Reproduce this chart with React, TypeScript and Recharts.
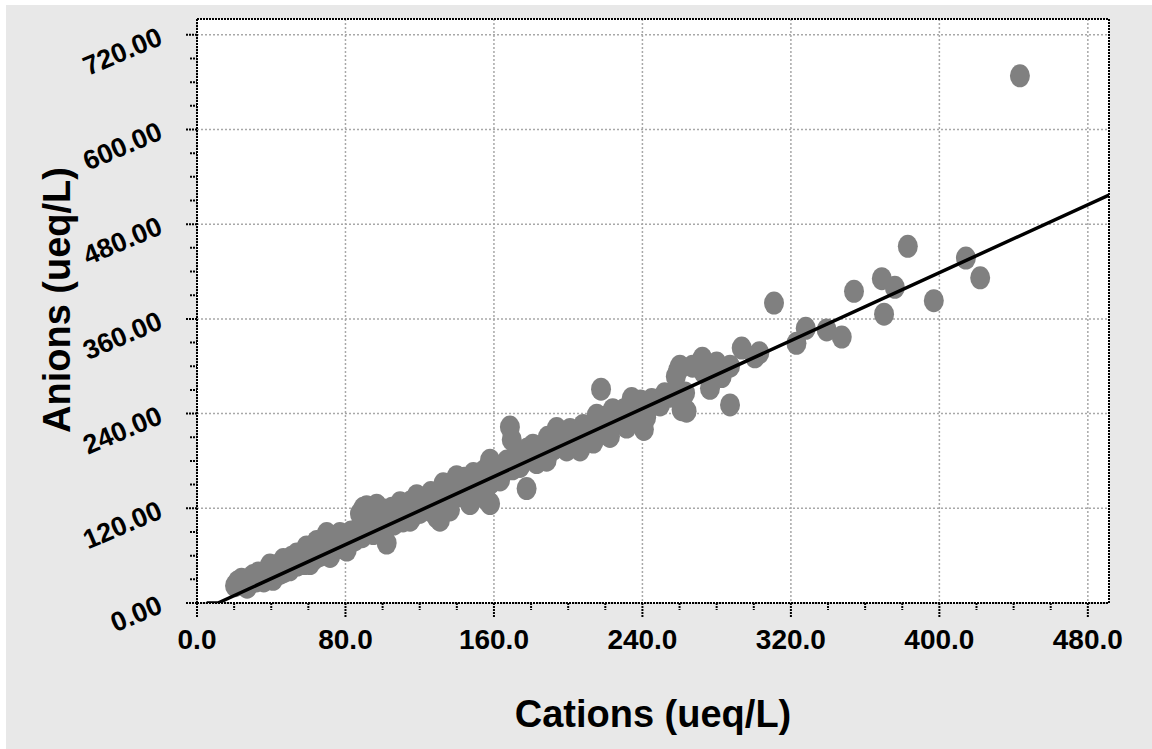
import { CartesianGrid, ReferenceLine, Scatter, ScatterChart, XAxis, YAxis } from "recharts";

// sample totals, ueq/L
const cations = [
  20.5, 22, 24, 25, 27, 28, 30.3, 32, 33, 35, 36, 38, 39.3, 40, 41, 43, 44, 45, 46.5, 47,
  48, 50, 51, 52, 53.7, 54, 55, 56, 57, 58, 59, 60.9, 61, 62, 63, 64.5, 65, 66, 67, 68,
  69.9, 70, 71.7, 72, 73, 74, 75, 76, 77, 78.8, 79, 80.7, 81, 82, 83, 84, 85, 86, 87.8, 88,
  89, 89.6, 90, 91.4, 92, 93, 94, 95, 96.8, 97, 98, 99, 100, 101, 102.2, 103, 104, 105, 106, 107,
  108, 109.4, 110, 111, 112, 113, 114.8, 115, 116, 117, 118.4, 119, 120, 121, 122, 123.8, 124, 125, 126, 127,
  128, 129.1, 130.9, 131, 132, 132.7, 133, 134.5, 135, 136.3, 137, 138, 139.9, 140, 141.7, 142, 143, 144, 145, 146,
  147.1, 148.9, 149, 150, 151, 152, 153, 154, 155, 156.1, 157.9, 157.9, 158, 160, 161, 163.3, 164, 165, 167, 168.6,
  169.6, 170, 172, 173, 174, 175, 176, 177.6, 178, 179.4, 181, 182, 183, 184.8, 186, 187, 188.4, 189, 190, 192,
  193.8, 195, 196, 198, 199.2, 201, 202, 204, 205, 206.4, 208, 209, 211, 212, 213.6, 215.4, 216, 217.7, 219, 220,
  222.5, 223, 224, 226, 227, 229, 230, 231.5, 233, 234.2, 236, 237, 239, 240.8, 242, 243, 245, 246.8, 249.5, 252,
  255, 258, 259.3, 260.2, 261.1, 263, 263.8, 267, 272.3, 272.8, 276.4, 280, 282.7, 287.2, 287.2, 293.5, 300.6, 303, 310.9, 323,
  328, 339.3, 347.4, 354, 370.2, 369, 376, 383, 397, 414.3, 422, 443.4,
];
const anions = [
  22, 27, 30, 24, 20, 30, 35, 28, 38, 33, 28, 40, 48, 36, 30, 42, 48, 38, 55, 40,
  45, 42, 58, 50, 62, 48, 52, 60, 55, 50, 71, 50, 66, 62, 56, 78, 70, 60, 62, 70,
  88, 72, 59, 75, 68, 80, 84, 70, 88, 86, 80, 67, 74, 78, 90, 85, 80, 92, 113, 96,
  84, 120, 90, 122, 110, 98, 92, 88, 124, 112, 100, 104, 95, 118, 76, 98, 108, 120, 100, 106,
  112, 127, 122, 104, 110, 118, 105, 128, 120, 112, 136, 124, 115, 132, 125, 134, 120, 118, 140, 130,
  124, 109, 105, 142, 138, 151, 128, 147, 150, 118, 130, 135, 160, 146, 156, 136, 140, 158, 150, 140,
  126, 164, 150, 145, 162, 155, 148, 140, 168, 131, 181, 126, 152, 160, 172, 156, 166, 170, 180, 223,
  207, 170, 180, 190, 173, 178, 190, 145, 195, 194, 200, 185, 178, 198, 190, 200, 181, 210, 200, 195,
  221, 212, 205, 205, 194, 220, 210, 200, 210, 194, 225, 215, 205, 222, 204, 238, 215, 271, 235, 225,
  211, 230, 245, 240, 235, 228, 245, 223, 238, 259, 240, 250, 256, 220, 235, 245, 258, 253, 251, 265,
  262, 287, 295, 300, 245, 266, 243, 300, 310, 293, 272, 304, 287, 251, 300, 323, 312, 317, 380, 329,
  348, 346, 337, 395, 366, 411, 400, 452, 383, 437, 412, 668,
];

// least-squares fit, clipped at zero
const fitCations = [5.2, 11.3, 491.4];
const fitAnions = [0, 0, 517];

const xTicks = [0, 20, 40, 60, 80, 100, 120, 140, 160, 180, 200, 220, 240, 260, 280, 300, 320, 340, 360, 380, 400, 420, 440, 460, 480];
const yTicks = [0, 30, 60, 90, 120, 150, 180, 210, 240, 270, 300, 330, 360, 390, 420, 450, 480, 510, 540, 570, 600, 630, 660, 690, 720];
const xLabelTicks = [0, 80, 160, 240, 320, 400, 480];
const yLabelTicks = [0, 120, 240, 360, 480, 600, 720];

const X_MAX = 491.4;
const Y_MAX = 740;

const points = cations.map((c, i) => ({ cation: c, anion: anions[i] }));
const fitLine = fitCations.map((c, i) => ({ cation: c, anion: fitAnions[i] }));

const FONT = "'Liberation Sans', Arial, sans-serif";
const dotted = { stroke: "#000", strokeWidth: 2, strokeDasharray: "2 1" };

const Dot = (props: any) => (
  <ellipse cx={props.cx} cy={props.cy} rx={10} ry={11.5} fill="#808080" />
);

const XTick = ({ x, y, payload }: any) => {
  const major = xLabelTicks.includes(payload.value);
  return (
    <g>
      <line x1={x} x2={x} y1={y} y2={y + (major ? 14 : 7)} {...dotted} />
      {major && (
        <text x={x} y={y + 46} textAnchor="middle" fontFamily={FONT} fontWeight="bold" fontSize={28} fill="#000">
          {payload.value.toFixed(1)}
        </text>
      )}
    </g>
  );
};

const YTick = ({ x, y, payload }: any) => {
  const major = yLabelTicks.includes(payload.value);
  const tx = x - 33;
  const ty = y + 9;
  return (
    <g>
      <line x1={x - (major ? 11 : 7)} x2={x} y1={y} y2={y} {...dotted} />
      {major && (
        <text
          x={tx}
          y={ty}
          textAnchor="end"
          transform={`rotate(-23, ${tx}, ${ty})`}
          fontFamily={FONT}
          fontWeight="bold"
          fontSize={27}
          fill="#000"
        >
          {payload.value.toFixed(2)}
        </text>
      )}
    </g>
  );
};

export default function App() {
  return (
    <div
      style={{
        position: "absolute",
        left: 6,
        top: 5,
        width: 1146,
        height: 744,
        background: "#e8e8e8",
        fontFamily: FONT,
      }}
    >
      <ScatterChart width={1146} height={744} margin={{ top: 14, right: 43, bottom: 86, left: 91 }}>
        <CartesianGrid
          fill="#fff"
          stroke="#a8a8a8"
          strokeDasharray="2 2"
          strokeWidth={1.5}
          horizontalValues={yLabelTicks}
          verticalValues={xLabelTicks}
        />
        <XAxis
          type="number"
          dataKey="cation"
          domain={[0, X_MAX]}
          ticks={xTicks}
          interval={0}
          allowDataOverflow
          height={60}
          tickSize={0}
          tickMargin={0}
          tickLine={false}
          axisLine={dotted}
          tick={XTick}
        />
        <YAxis
          type="number"
          dataKey="anion"
          domain={[0, Y_MAX]}
          ticks={yTicks}
          interval={0}
          allowDataOverflow
          width={100}
          tickSize={0}
          tickMargin={0}
          tickLine={false}
          axisLine={dotted}
          tick={YTick}
        />
        <ReferenceLine y={Y_MAX} {...dotted} />
        <ReferenceLine x={X_MAX} {...dotted} />
        <Scatter data={points} shape={Dot} isAnimationActive={false} />
        <Scatter
          data={fitLine}
          line={{ stroke: "#000", strokeWidth: 3.5 }}
          shape={() => <g />}
          isAnimationActive={false}
        />
      </ScatterChart>
      <div
        style={{
          position: "absolute",
          left: 347,
          top: 690,
          width: 600,
          textAlign: "center",
          fontSize: 38,
          fontWeight: "bold",
          lineHeight: 1,
        }}
      >
        Cations (ueq/L)
      </div>
      <div
        style={{
          position: "absolute",
          left: -149,
          top: 275,
          width: 400,
          height: 40,
          lineHeight: "40px",
          textAlign: "center",
          fontSize: 38,
          fontWeight: "bold",
          transform: "rotate(-90deg)",
        }}
      >
        Anions (ueq/L)
      </div>
    </div>
  );
}
